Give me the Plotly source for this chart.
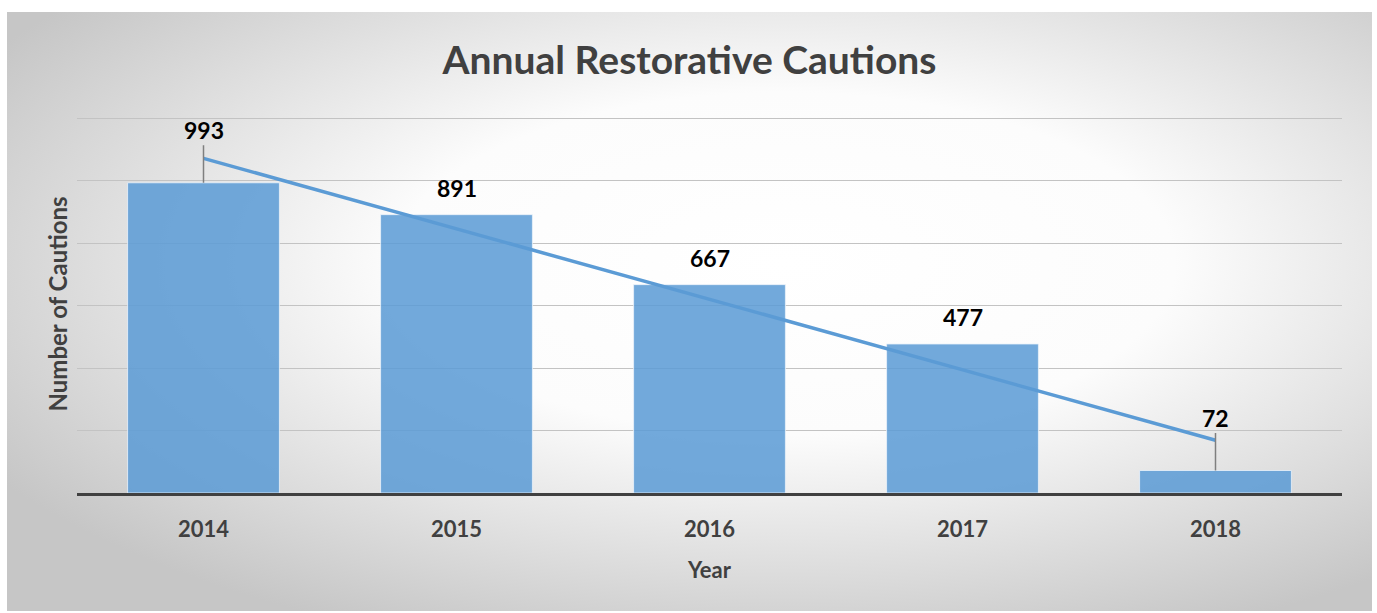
import base64
import numpy as np
import plotly.graph_objects as go

# ---- data ----
years = ["2014", "2015", "2016", "2017", "2018"]
cautions = [993, 891, 667, 477, 72]
grid_vals = [0, 200, 400, 600, 800, 1000, 1200]
title_text = "Annual Restorative Cautions"
x_title = "Year"
y_title = "Number of Cautions"

pos = list(range(len(years)))
# linear trendline fitted to the data
slope, intercept = np.polyfit(pos, cautions, 1)
trend = [float(slope * p + intercept) for p in pos]

FONT = "Lato"
DARK = "#404040"

# ---- background gradient (radial, like the original chart area) ----
svg = (
    '<svg xmlns="http://www.w3.org/2000/svg" width="1365" height="600" '
    'preserveAspectRatio="none" viewBox="0 0 1365 600">'
    '<defs><radialGradient id="g" cx="0.57" cy="0.42" r="0.68">'
    '<stop offset="0" stop-color="#ffffff"/>'
    '<stop offset="0.42" stop-color="#fcfcfc"/>'
    '<stop offset="1" stop-color="#c6c6c6"/>'
    '</radialGradient></defs>'
    '<rect width="1365" height="600" fill="url(#g)"/></svg>'
)
svg_uri = "data:image/svg+xml;base64," + base64.b64encode(svg.encode()).decode()

fig = go.Figure()

fig.add_trace(go.Bar(
    x=pos, y=cautions, width=0.6,
    marker=dict(color="rgba(91,155,213,0.86)",
                line=dict(color="rgba(235,242,250,0.8)", width=1)),
    hoverinfo="skip", showlegend=False,
))

fig.add_trace(go.Scatter(
    x=pos, y=trend, mode="lines",
    line=dict(color="#5b9bd5", width=3.5),
    hoverinfo="skip", showlegend=False,
))

# data labels
lab_font = dict(family=FONT, size=23, color="black", weight="bold")
annotations = []
for i, (p, v) in enumerate(zip(pos, cautions)):
    if i == 0 or i == len(pos) - 1:
        annotations.append(dict(
            x=p, y=v, xref="x", yref="y", text=str(v),
            showarrow=True, arrowhead=0, arrowwidth=1.5, arrowcolor="#7f7f7f",
            ax=0, ay=-53, font=lab_font,
        ))
    else:
        annotations.append(dict(
            x=p, y=v, xref="x", yref="y", text=str(v),
            showarrow=False, yanchor="middle", yshift=27, font=lab_font,
        ))

W, H = 1377, 613
ymax = 1210
ml, mr, mb = 77, 35, 120
plot_h = 375 * ymax / 1200          # keep 1200 at the original top gridline
mt = round(H - mb - plot_h)
pw, ph = W - ml - mr, H - mt - mb
# chart box in pixels: x 7..1372, y 12..611
bx0, bx1, by0, by1 = 7, 1372, 12, 611
img = dict(
    source=svg_uri, xref="paper", yref="paper",
    x=(bx0 - ml) / pw, y=(H - mb - by0) / ph,
    sizex=(bx1 - bx0) / pw, sizey=(by1 - by0) / ph,
    xanchor="left", yanchor="top", sizing="stretch", layer="below",
)
title_x = ((bx0 + bx1) / 2 - ml) / pw

fig.update_layout(
    width=W, height=H,
    margin=dict(l=ml, r=mr, t=mt, b=mb),
    paper_bgcolor="white", plot_bgcolor="rgba(0,0,0,0)",
    images=[img],
    title=dict(text=title_text, x=title_x, xanchor="center",
               xref="paper", y=1 - 60 / H, yanchor="middle", yref="container",
               font=dict(family=FONT, size=39, color=DARK, weight="bold")),
    annotations=annotations,
    xaxis=dict(
        range=[-0.5, len(pos) - 0.5], tickmode="array", tickvals=pos, ticktext=years,
        showgrid=False, zeroline=False, showline=True, linecolor=DARK, linewidth=3,
        ticks="", tickfont=dict(family=FONT, size=22, color=DARK, weight="bold"),
        ticklabelstandoff=15,
        title=dict(text=x_title, standoff=22,
                   font=dict(family=FONT, size=22, color=DARK, weight="bold")),
    ),
    yaxis=dict(
        range=[0, ymax], tickmode="array", tickvals=grid_vals,
        showgrid=True, gridcolor="#c3c3c3", gridwidth=1.2,
        zeroline=False, showticklabels=False, ticks="",
        title=dict(text=y_title, standoff=1,
                   font=dict(family=FONT, size=24, color=DARK, weight="bold")),
    ),
)

fig.write_html("out.html")
